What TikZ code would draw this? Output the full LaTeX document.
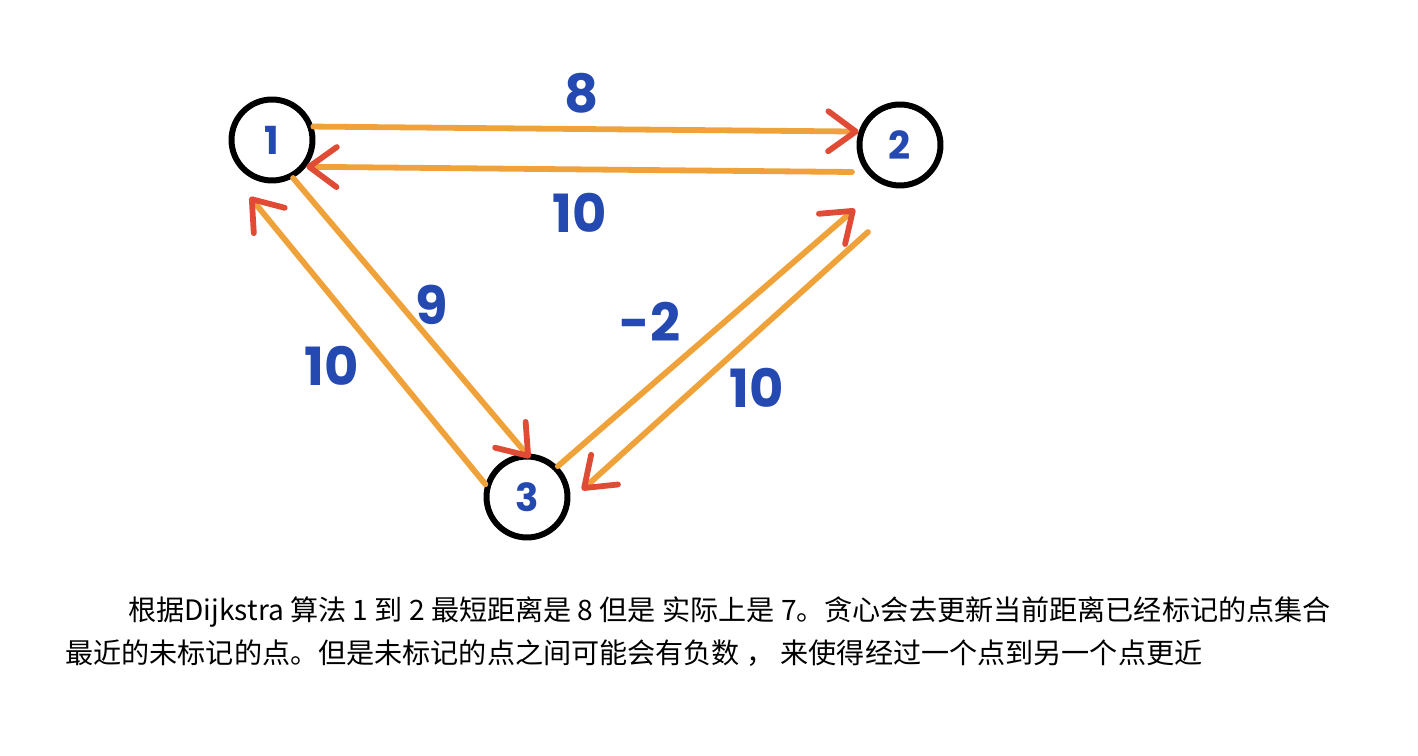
\documentclass[tikz,border=0pt]{standalone}
\usepackage{fontspec}
\usepackage{tikz}
\usetikzlibrary{arrows.meta}
\newfontfamily\cjk{Noto Sans CJK SC}
\newfontfamily\hand{Poppins}
\definecolor{edgeorange}{HTML}{F0A23A}
\definecolor{tipred}{HTML}{E04B35}
\definecolor{inkblue}{HTML}{2449B0}

\begin{document}
\begin{tikzpicture}[x=0.02cm, y=-0.02cm,
  vertex/.style={draw, circle, line width=3.4pt, minimum size=1.62cm, inner sep=0pt,
    text=inkblue, font=\hand\bfseries\fontsize{22}{22}\selectfont},
  edge/.style={draw=edgeorange, line width=3.3pt, line cap=round,
    -{Straight Barb[round, length=0.55cm, width=0.8cm, color=tipred]}},
  weight/.style={text=inkblue, inner sep=1pt, font=\hand\bfseries\fontsize{30}{30}\selectfont},
  note/.style={anchor=west, inner sep=0pt, font=\cjk\fontsize{16}{16}\selectfont}]
  \useasboundingbox (0,0) rectangle (1418,756);
  \node[vertex] (v1) at (272,140) {1};
  \node[vertex] (v2) at (900,145) {2};
  \node[vertex] (v3) at (527,497) {3};
  % top pair
  \draw[edge] (v1.18) -- (v2.162);
  \draw[edge] ([shift={(-48,27)}]v2.center) -- (v1.-38);
  % left pair
  \draw[edge] (v1.-61) -- ([shift={(3,-39)}]v3.center);
  \draw[edge] (v3.163) -- ([shift={(-22,57)}]v1.center);
  % right pair
  \draw[edge] (v3.45) -- ([shift={(-45,64)}]v2.center);
  \draw[edge] ([shift={(-32,87)}]v2.center) -- ([shift={(55,-7)}]v3.center);
  \node[weight] (w12) at (582,93) {8};
  \node[weight] (w21) at (580,213) {10};
  \node[weight] (w13) at (432,305) {9};
  \node[weight] (w31) at (332,366) {10};
  \node[weight] (w32) at (650,322) {-2};
  \node[weight] (w23) at (757,388) {10};
  \node[note] (line1) at (128,612) {根据Dijkstra 算法 1 到 2 最短距离是 8 但是 实际上是 7。贪心会去更新当前距离已经标记的点集合};
  \node[note] (line2) at (65,653) {最近的未标记的点。但是未标记的点之间可能会有负数 ， 来使得经过一个点到另一个点更近};
\end{tikzpicture}
\end{document}
